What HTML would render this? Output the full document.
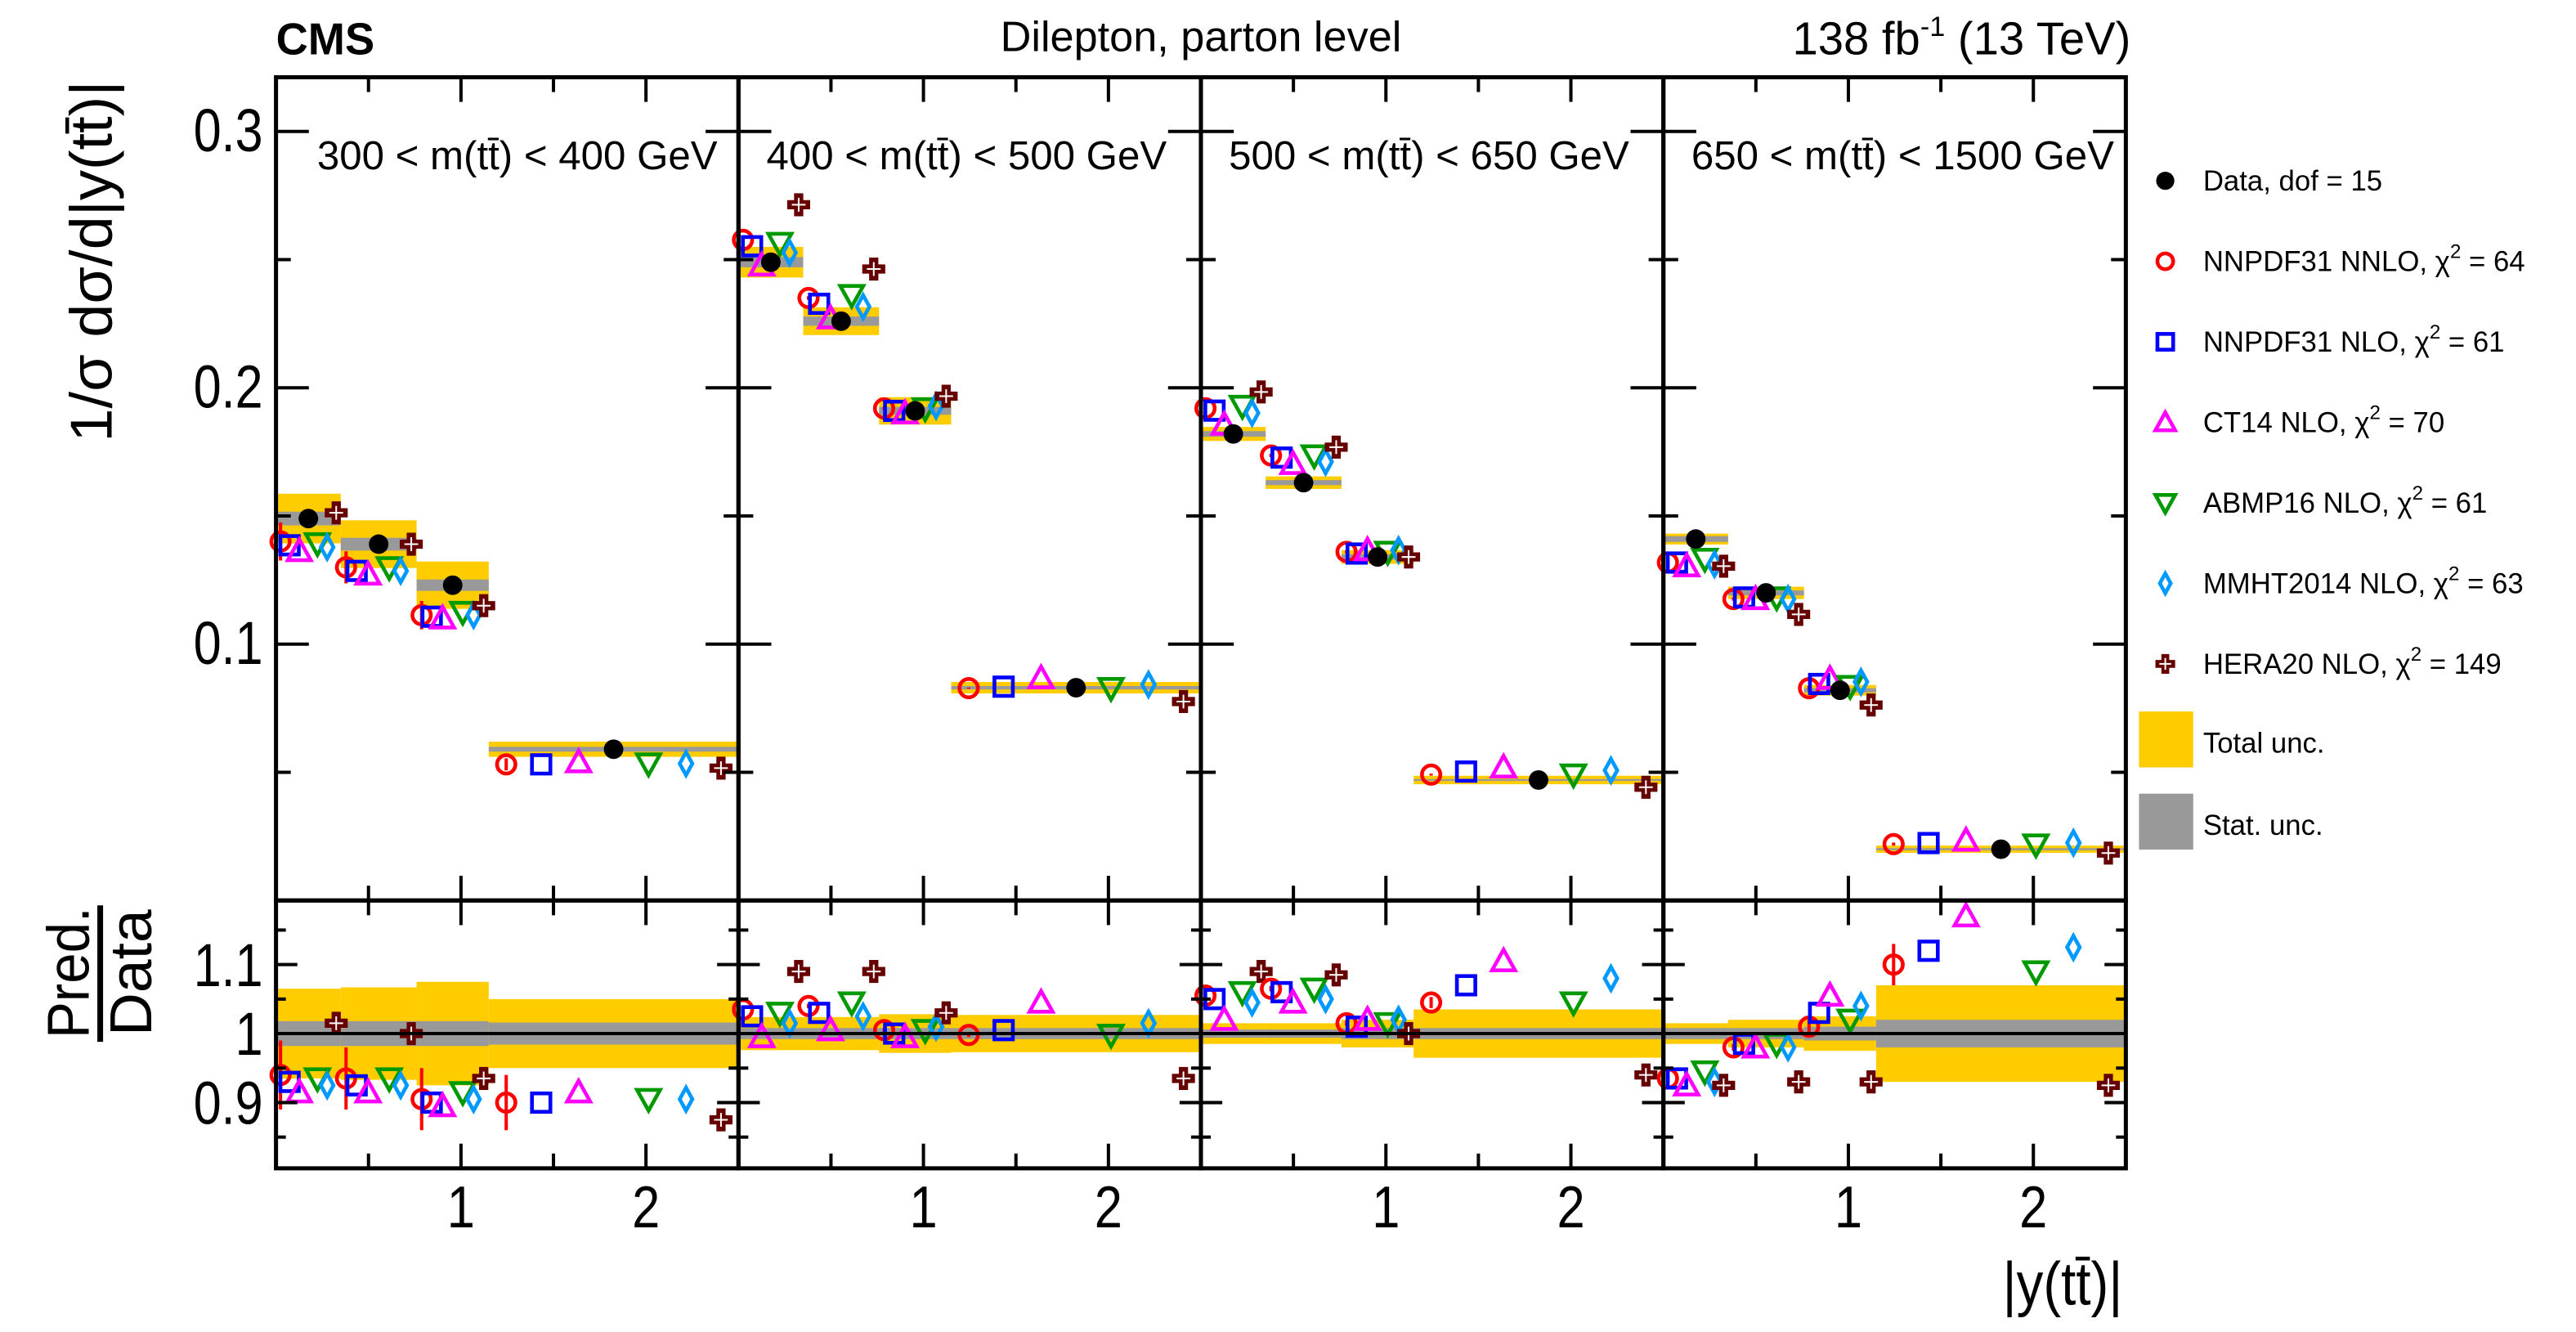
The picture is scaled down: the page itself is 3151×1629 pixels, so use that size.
<!DOCTYPE html>
<html><head><meta charset="utf-8"><style>
html,body{margin:0;padding:0;background:#fff}
svg{display:block}
text{font-family:"Liberation Sans",sans-serif;fill:#000}
</style></head><body>
<svg id="chart" width="3151" height="1629" viewBox="0 0 1568 810.6" xmlns="http://www.w3.org/2000/svg">
<g id="bands"></g>
<g id="marks"></g>
<g id="frames"></g>
<text x="168" y="33" font-size="27" font-weight="bold">CMS</text>
<text x="731" y="31" font-size="26" text-anchor="middle">Dilepton, parton level</text>
<text x="1297" y="33" font-size="28" text-anchor="end">138 fb<tspan font-size="17" dy="-11">-1</tspan><tspan dy="11"> (13 TeV)</tspan></text>
<text transform="translate(68,159) rotate(-90)" font-size="36" text-anchor="middle" textLength="220" lengthAdjust="spacingAndGlyphs">1/σ dσ/d|y(tt̄)|</text>
<g>
<text transform="translate(54,592) rotate(-90)" font-size="36" text-anchor="middle" textLength="80" lengthAdjust="spacingAndGlyphs">Pred.</text>
<line x1="61" y1="551" x2="61" y2="634" stroke="#000" stroke-width="3.5"/>
<text transform="translate(92,592) rotate(-90)" font-size="36" text-anchor="middle" textLength="77" lengthAdjust="spacingAndGlyphs">Data</text>
</g>
<text x="1219" y="794" font-size="37" textLength="73" lengthAdjust="spacingAndGlyphs">|y(tt̄)|</text>
<g id="legend"></g>
</svg>
<script>
// ---- data ----
const panelLabels=["300 < m(tt̄) < 400 GeV","400 < m(tt̄) < 500 GeV","500 < m(tt̄) < 650 GeV","650 < m(tt̄) < 1500 GeV"];
const binEdges=[0,0.35,0.76,1.15,2.5];
const dataVals=[[0.149,0.139,0.123,0.059],[0.249,0.226,0.191,0.083],[0.182,0.163,0.134,0.047],[0.141,0.120,0.082,0.020]];
const totUnc=[[0.065,0.067,0.075,0.05],[0.024,0.024,0.028,0.027],[0.015,0.015,0.02,0.035],[0.015,0.02,0.025,0.07]];
const statUnc=[[0.018,0.018,0.018,0.016],[0.008,0.008,0.008,0.008],[0.006,0.006,0.008,0.008],[0.008,0.008,0.01,0.02]];
const ratioNNLO=[[0.94,0.935,0.905,0.9],[1.035,1.04,1.005,0.998],[1.055,1.065,1.015,1.045],[0.935,0.98,1.01,1.1]];
const errNNLO=[[0.05,0.045,0.045,0.04],[0.003,0.003,0.003,0.003],[0.004,0.004,0.004,0.008],[0.005,0.005,0.01,0.03]];
const ratioNLO=[[0.93,0.925,0.9,0.9],[1.025,1.03,1.0,1.005],[1.05,1.06,1.01,1.07],[0.935,0.985,1.03,1.12]];
const ratioCT14=[[0.915,0.915,0.895,0.915],[0.995,1.005,0.995,1.045],[1.02,1.045,1.02,1.105],[0.925,0.98,1.055,1.17]];
const ratioABMP=[[0.935,0.935,0.915,0.905],[1.03,1.045,1.005,0.998],[1.06,1.065,1.015,1.045],[0.945,0.985,1.02,1.09]];
const ratioMMHT=[[0.925,0.925,0.905,0.905],[1.015,1.025,1.01,1.015],[1.045,1.05,1.02,1.08],[0.93,0.98,1.04,1.125]];
const ratioHERA=[[1.015,1.0,0.935,0.875],[1.09,1.09,1.03,0.935],[1.09,1.085,1.0,0.94],[0.925,0.93,0.93,0.925]];
const legendLabels=["Data, dof = 15","NNPDF31 NNLO, χ","NNPDF31 NLO, χ","CT14 NLO, χ","ABMP16 NLO, χ","MMHT2014 NLO, χ","HERA20 NLO, χ"];
const chi2=[null,64,61,70,61,63,149];
// ---- layout ----
const NS="http://www.w3.org/2000/svg";
const P0=168,PW=281.5,TOP=47,MID=548,BOT=711;
const xs=(p,v)=>P0+p*PW+v*PW/2.5;
const yu=v=>80+(0.3-v)*1560;
const yr=v=>629+(1-v)*420;
const fr=[0.07,0.21,0.36,0.5,0.64,0.79,0.93];
function el(tag,at,parent){const e=document.createElementNS(NS,tag);for(const k in at)e.setAttribute(k,at[k]);parent.appendChild(e);return e;}
function condense(t,f){const L=t.getComputedTextLength();if(L>0){t.setAttribute('textLength',(L*f).toFixed(1));t.setAttribute('lengthAdjust','spacingAndGlyphs');}}
const bands=document.getElementById('bands'),marks=document.getElementById('marks'),frames=document.getElementById('frames'),legend=document.getElementById('legend');
const models=[
 {r:ratioNNLO,type:'circle',c:'#ff0000'},
 {r:ratioNLO,type:'square',c:'#0000ff'},
 {r:ratioCT14,type:'tri',c:'#ff00ff'},
 {r:ratioABMP,type:'itri',c:'#009900'},
 {r:ratioMMHT,type:'diamond',c:'#0099ff'},
 {r:ratioHERA,type:'cross',c:'#660000'}];
function marker(type,c,x,y,parent,s){
 s=s||7;
 const sw=2.3;
 if(type==='circle')return el('circle',{cx:x,cy:y,r:s*0.8,fill:'none',stroke:c,'stroke-width':sw},parent);
 if(type==='square')return el('rect',{x:x-s*0.8,y:y-s*0.8,width:s*1.6,height:s*1.6,fill:'none',stroke:c,'stroke-width':sw},parent);
 if(type==='tri')return el('polygon',{points:`${x},${y-s} ${x-s},${y+s*0.8} ${x+s},${y+s*0.8}`,fill:'none',stroke:c,'stroke-width':sw},parent);
 if(type==='itri')return el('polygon',{points:`${x},${y+s} ${x-s},${y-s*0.8} ${x+s},${y-s*0.8}`,fill:'none',stroke:c,'stroke-width':sw},parent);
 if(type==='diamond')return el('polygon',{points:`${x},${y-s} ${x-s*0.55},${y} ${x},${y+s} ${x+s*0.55},${y}`,fill:'none',stroke:c,'stroke-width':sw},parent);
 if(type==='cross'){const g=el('g',{},parent);const a=s*0.4,b=s;
  el('polygon',{points:`${x-a},${y-b} ${x+a},${y-b} ${x+a},${y-a} ${x+b},${y-a} ${x+b},${y+a} ${x+a},${y+a} ${x+a},${y+b} ${x-a},${y+b} ${x-a},${y+a} ${x-b},${y+a} ${x-b},${y-a} ${x-a},${y-a}`,fill:c},g);
  el('line',{x1:x-b*0.6,y1:y,x2:x+b*0.6,y2:y,stroke:'#fff','stroke-width':1},g);
  el('line',{x1:x,y1:y-b*0.6,x2:x,y2:y+b*0.6,stroke:'#fff','stroke-width':1},g);return g;}
 if(type==='dot')return el('circle',{cx:x,cy:y,r:s*0.85,fill:c},parent);
}
for(let p=0;p<4;p++){
 for(let b=0;b<4;b++){
  const x0=xs(p,binEdges[b]),x1=xs(p,binEdges[b+1]),d=dataVals[p][b];
  const t=totUnc[p][b],st=statUnc[p][b];
  let e=el('rect',{x:x0,y:yu(d*(1+t)),width:x1-x0,height:yu(d*(1-t))-yu(d*(1+t)),fill:'#ffcc00'},bands);
  
  e=el('rect',{x:x0,y:yu(d*(1+st)),width:x1-x0,height:yu(d*(1-st))-yu(d*(1+st)),fill:'#999'},bands);
  
  e=el('rect',{x:x0,y:yr(1+t),width:x1-x0,height:yr(1-t)-yr(1+t),fill:'#ffcc00'},bands);
  
  e=el('rect',{x:x0,y:yr(1+st),width:x1-x0,height:yr(1-st)-yr(1+st),fill:'#999'},bands);
  
  const f=i=>x0+fr[i]*(x1-x0);
  el('line',{x1:f(0),x2:f(0),y1:yr(ratioNNLO[p][b]+errNNLO[p][b]),y2:yr(ratioNNLO[p][b]-errNNLO[p][b]),stroke:'#ff0000','stroke-width':2},marks);
  el('line',{x1:f(0),x2:f(0),y1:yu(d*(ratioNNLO[p][b]+errNNLO[p][b])),y2:yu(d*(ratioNNLO[p][b]-errNNLO[p][b])),stroke:'#ff0000','stroke-width':2},marks);
  const order=[0,1,2,4,5,6];
  models.forEach((m,i)=>{
   const r=m.r[p][b];
   let mk=marker(m.type,m.c,f(order[i]),yu(d*r),marks);
   
   mk=marker(m.type,m.c,f(order[i]),yr(r),marks);
   
  });
  let dm=marker('dot','#000',f(3),yu(d),marks,7);
  
 }
 el('line',{x1:xs(p,0),x2:xs(p,2.5),y1:yr(1),y2:yr(1),stroke:'#000','stroke-width':2},frames);
 const lt=el('text',{x:xs(p,0)+(p===0?25:17),y:103,'font-size':24.5},frames);lt.textContent=panelLabels[p];
 
 for(let v=0.5;v<2.5;v+=0.5){const X=xs(p,v),L=(v%1===0)?15:9;
  for(const [yt,yb] of [[TOP,MID],[MID,BOT]]){
   el('line',{x1:X,x2:X,y1:yt,y2:yt+L,stroke:'#000','stroke-width':2},frames);
   el('line',{x1:X,x2:X,y1:yb,y2:yb-L,stroke:'#000','stroke-width':2},frames);}
  if(v%1===0){const t=el('text',{x:X,y:747,'font-size':36,'text-anchor':'middle'},frames);t.textContent=String(v);
   condense(t,0.85);}
 }
 const xl=xs(p,0),xr2=xs(p,2.5);
 for(let k=1;k<=6;k++){const v=k*0.05,Y=yu(v),L=(k%2===0)?20:9;
  el('line',{x1:xl,x2:xl+L,y1:Y,y2:Y,stroke:'#000','stroke-width':2},frames);
  el('line',{x1:xr2,x2:xr2-L,y1:Y,y2:Y,stroke:'#000','stroke-width':2},frames);}
 for(let k=-3;k<=3;k++){const v=1+k*0.05,Y=yr(v),L=(k%2===0)?13:6;
  el('line',{x1:xl,x2:xl+L,y1:Y,y2:Y,stroke:'#000','stroke-width':2},frames);
  el('line',{x1:xr2,x2:xr2-L,y1:Y,y2:Y,stroke:'#000','stroke-width':2},frames);}
 el('rect',{x:xl,y:TOP,width:PW,height:MID-TOP,fill:'none',stroke:'#000','stroke-width':2.5},frames);
 el('rect',{x:xl,y:MID,width:PW,height:BOT-MID,fill:'none',stroke:'#000','stroke-width':2.5},frames);
}
const yTicks=[0.1,0.2,0.3];
yTicks.forEach(v=>{const t=el('text',{x:160,y:yu(v)+12,'font-size':37,'text-anchor':'end'},frames);t.textContent=v.toFixed(1);
 condense(t,0.82);});
const rTicks=[0.9,1,1.1];
rTicks.forEach(v=>{const t=el('text',{x:160,y:yr(v)+13,'font-size':37,'text-anchor':'end'},frames);t.textContent=String(v);
 condense(t,0.82);});
const ltypes=['dot','circle','square','tri','itri','diamond','cross'],lcol=['#000','#ff0000','#0000ff','#ff00ff','#009900','#0099ff','#660000'];
legendLabels.forEach((s,i)=>{const Y=110+i*49;
 const g=el('g',{},legend);
 
 marker(ltypes[i],lcol[i],1318,Y,g,i===0?6.5:6);
 const t=el('text',{x:1341,y:Y+6,'font-size':17.3},g);
 t.textContent=s;
 if(chi2[i]!==null){const sp=el('tspan',{'font-size':12,dy:-8},t);sp.textContent='2';const s2=el('tspan',{dy:8},t);s2.textContent=' = '+chi2[i];}
});
[['#ffcc00','Total unc.',453],['#999','Stat. unc.',503]].forEach(([c,s,Y])=>{
 const g=el('g',{},legend);
 el('rect',{x:1302,y:Y-20,width:33,height:34,fill:c},g);
 const t=el('text',{x:1341,y:Y+5,'font-size':17.3},g);t.textContent=s;});
</script>
</body></html>
